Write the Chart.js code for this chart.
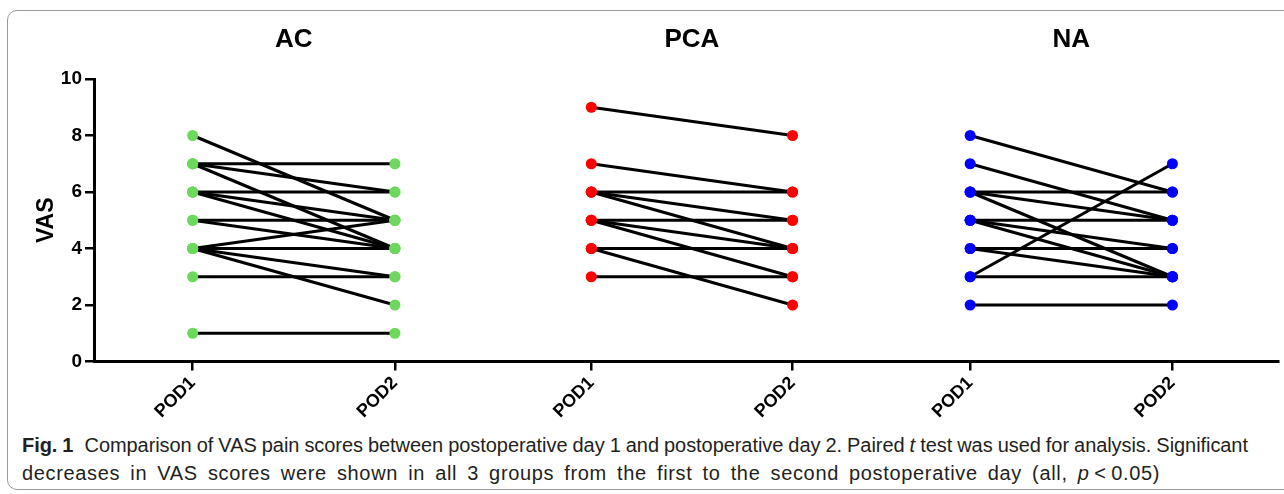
<!DOCTYPE html>
<html>
<head>
<meta charset="utf-8">
<script src="https://cdn.jsdelivr.net/npm/chart.js@4"></script>
<style>
  html, body { margin: 0; padding: 0; background: #fff; }
  body { width: 1284px; height: 494px; position: relative; overflow: hidden; }
  #frame { position: absolute; left: 7px; top: 10px; width: 1300px; height: 478px;
           border: 1px solid #9a9a9a; border-radius: 10px; }
  #wrap { position: absolute; left: 0; top: 0; width: 1284px; height: 430px; }
  #caption { position: absolute; left: 22px; top: 431px; color: #231f20;
             font-family: "Liberation Sans", Arial, sans-serif;
             font-size: 20px; line-height: 28px; white-space: nowrap; }
  #caption .ln { display: inline-block; }
  #caption b { margin-right: 6px; }
</style>
</head>
<body>
<div id="frame"></div>
<div id="wrap"><canvas id="chart" width="1284" height="430"></canvas></div>
<div id="caption"><span class="ln" data-w="1226"><b>Fig. 1</b> Comparison of VAS pain scores between postoperative day 1 and postoperative day 2. Paired <i>t</i> test was used for analysis. Significant</span><br><span class="ln" data-w="1138">decreases in VAS scores were shown in all 3 groups from the first to the second postoperative day (all, <i>p</i>&thinsp;&lt;&thinsp;0.05)</span></div>
<script>
"use strict";

const groups = ["AC", "PCA", "NA"];
const days = ["POD1", "POD2"];
const yTicks = [0, 2, 4, 6, 8, 10];

// each index is one patient: POD1 value -> POD2 value
const acPod1 = [8, 7, 7, 7, 6, 6, 6, 5, 5, 4, 4, 4, 4, 3, 1];
const acPod2 = [5, 7, 6, 4, 6, 5, 4, 5, 4, 5, 4, 3, 2, 3, 1];
const pcaPod1 = [9, 7, 6, 6, 6, 5, 5, 5, 4, 4, 3];
const pcaPod2 = [8, 6, 6, 5, 4, 5, 4, 3, 4, 2, 3];
const naPod1 = [8, 7, 6, 6, 6, 5, 5, 5, 4, 4, 3, 3, 2];
const naPod2 = [6, 5, 6, 5, 3, 5, 4, 3, 4, 3, 3, 7, 2];

const groupColors = ["#6cd85c", "#ff0000", "#0000ff"];
// where each POD column sits on the x axis (0..12)
const dayX = [[1, 3.05], [5.04, 7.08], [8.88, 10.93]];

const pairs = [[acPod1, acPod2], [pcaPod1, pcaPod2], [naPod1, naPod2]];
const datasets = [];

// dots first so they sit on top of the lines
pairs.forEach((p, g) => {
  const pts = [];
  p.forEach((vals, d) => vals.forEach(v => pts.push({ x: dayX[g][d], y: v })));
  datasets.push({
    data: pts,
    showLine: false,
    pointRadius: 5.5,
    pointHoverRadius: 5.5,
    pointBorderWidth: 0,
    backgroundColor: groupColors[g],
    borderColor: groupColors[g],
    order: 0
  });
});

pairs.forEach((p, g) => {
  for (let i = 0; i < p[0].length; i++) {
    datasets.push({
      data: [{ x: dayX[g][0], y: p[0][i] }, { x: dayX[g][1], y: p[1][i] }],
      showLine: true,
      borderColor: "#000",
      borderWidth: 3,
      pointRadius: 0,
      order: 1
    });
  }
});

const groupTitles = {
  id: "groupTitles",
  afterDraw(chart) {
    const ctx = chart.ctx;
    const xs = chart.scales.x;
    ctx.save();
    ctx.font = 'bold 26px "Liberation Sans", Arial, sans-serif';
    ctx.fillStyle = "#000";
    ctx.textAlign = "center";
    ctx.textBaseline = "middle";
    groups.forEach((g, i) => {
      const cx = (xs.getPixelForValue(dayX[i][0]) + xs.getPixelForValue(dayX[i][1])) / 2;
      ctx.fillText(g, cx, 40);
    });
    ctx.restore();
  }
};

const tickFont = { family: '"Liberation Sans", Arial, sans-serif', weight: "bold" };

new Chart(document.getElementById("chart"), {
  type: "scatter",
  data: { datasets: datasets },
  plugins: [groupTitles],
  options: {
    responsive: false,
    animation: false,
    devicePixelRatio: 1,
    layout: { padding: { top: 79, right: 6, left: 0, bottom: 0 } },
    plugins: { legend: { display: false }, tooltip: { enabled: false } },
    scales: {
      x: {
        type: "linear",
        min: 0,
        max: 12,
        afterBuildTicks: s => { s.ticks = dayX.flat().map(v => ({ value: v })); },
        afterFit: s => { s.height = 68.5; },
        ticks: {
          autoSkip: false,
          minRotation: 45,
          maxRotation: 45,
          padding: 2,
          color: "#000",
          font: Object.assign({ size: 18 }, tickFont),
          callback: (v, i) => days[i % 2]
        },
        grid: { drawOnChartArea: false, color: "#000", lineWidth: 2.5, tickLength: 9 },
        border: { color: "#000", width: 3 }
      },
      y: {
        min: 0,
        max: 10,
        afterBuildTicks: s => { s.ticks = yTicks.map(v => ({ value: v })); },
        afterFit: s => { s.width = 94; },
        ticks: {
          padding: 3,
          color: "#000",
          font: Object.assign({ size: 19 }, tickFont)
        },
        title: {
          display: true,
          text: "VAS",
          color: "#000",
          padding: { top: 33, bottom: 0 },
          font: Object.assign({ size: 23 }, tickFont)
        },
        grid: { drawOnChartArea: false, color: "#000", lineWidth: 2.5, tickLength: 9 },
        border: { color: "#000", width: 3 }
      }
    }
  }
});

// stretch each caption line to the width it has in the figure,
// half through letter spacing and half through word spacing
document.querySelectorAll("#caption .ln").forEach(el => {
  const target = Number(el.dataset.w);
  const extra = target - el.getBoundingClientRect().width;
  const n = el.textContent.length;
  const spaces = (el.textContent.match(/ /g) || []).length;
  el.style.letterSpacing = (extra / 2 / n).toFixed(3) + "px";
  el.style.wordSpacing = (extra / 2 / spaces).toFixed(3) + "px";
});
</script>
</body>
</html>
